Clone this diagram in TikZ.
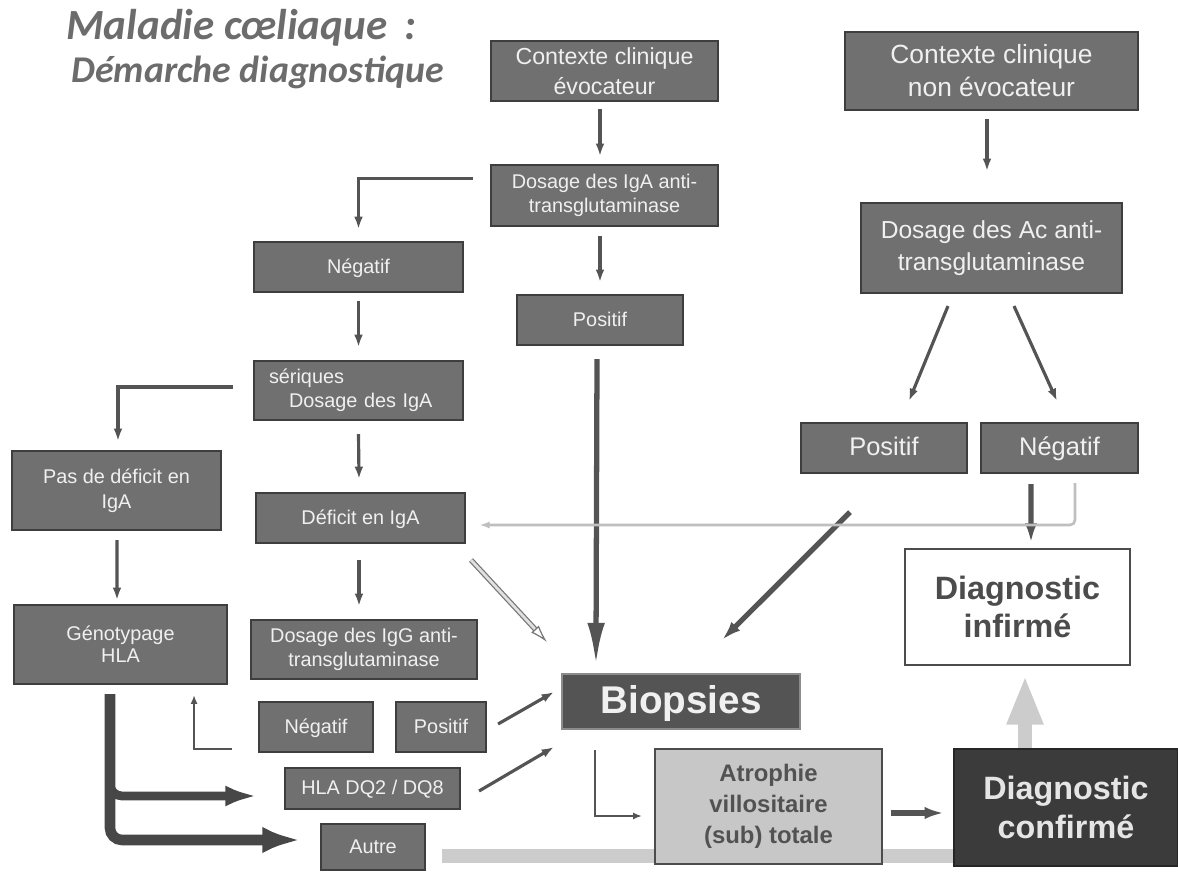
\documentclass[tikz,border=0pt]{standalone}
\usepackage{fontspec}
\setmainfont{Liberation Sans}
\newfontfamily\titlefont{Carlito}
\usetikzlibrary{arrows.meta,calc,backgrounds}

\newlength\pxu
\setlength\pxu{0.02cm}

\definecolor{boxfill}{RGB}{112,112,112}
\definecolor{boxline}{RGB}{62,62,62}
\definecolor{arrcol}{RGB}{84,84,84}
\definecolor{boxtext}{RGB}{240,240,240}
\definecolor{darktext}{RGB}{76,76,76}
\definecolor{titlecol}{RGB}{108,108,108}

\tikzset{
  sz/.style 2 args={minimum width=#1\pxu, minimum height=#2\pxu},
  box/.style={draw=boxline, fill=boxfill, line width=1.2pt, text=boxtext,
    align=center, inner sep=0pt, font=\fontsize{11.3}{13.4}\selectfont},
  one/.style={text height=#1, text depth=0.14*#1},
  one/.default=8.1pt,
  title/.style={text=titlecol, inner sep=0pt,
    font=\titlefont\bfseries\itshape\fontsize{21.5}{24}\selectfont},
  arr/.style={draw=arrcol, line width=1.8pt, -{Latex[length=7pt,width=5pt]}},
  midarr/.style={draw=arrcol, line width=3pt, -{Latex[length=11pt,width=7pt]}},
  bigarr/.style={draw=arrcol, line width=3pt, -{Latex[length=24pt,width=10pt]}},
  thinarr/.style={draw=arrcol, line width=1.2pt, -{Latex[length=5pt,width=4pt]}},
  lightarr/.style={draw=black!25, line width=1.5pt, rounded corners=5\pxu,
    -{Latex[length=6pt,width=4pt]}},
  hollowarr/.style={draw=arrcol!80, double=black!12, double distance=1.6pt,
    line width=0.7pt, -{Latex[open,length=10pt,width=6pt]}},
  fatarr/.style={draw=black!72, line width=5pt, rounded corners=12\pxu,
    -{Latex[length=18pt,width=12pt]}},
  barline/.style={draw=black!20, line width=8.5pt,
    -{Triangle[length=28pt,width=19pt]}}
}

\begin{document}
\begin{tikzpicture}[x=0.02cm, y=-0.02cm]
\useasboundingbox (0,0) rectangle (1178,872);

% title
\node[title, anchor=base west, font=\titlefont\bfseries\itshape\fontsize{24.5}{27}\selectfont] (t1) at (66,39) {Maladie cœliaque\hspace{0.4em}:};
\node[title, anchor=base west] (t2) at (71,82) {Démarche diagnostique};

% clinical context suggestive
\node[box, sz={227}{60}, font=\fontsize{13.2}{17}\selectfont] (evoc) at (604.5,71) {Contexte clinique\\évocateur};
\node[box, sz={227}{61}] (dosIgA) at (604.5,195.5) {Dosage des IgA anti-\\transglutaminase};
\node[box, one, sz={209}{50}] (neg1) at (358.5,267) {Négatif};
\node[box, one, sz={166}{50}] (pos1) at (600,320) {Positif};
\node[box, sz={209}{59}, align=left, text width=179\pxu] (ser) at (358.5,390.5) {sériques\\\hspace*{20\pxu}Dosage des IgA};
\node[box, sz={209}{79}, font=\fontsize{11.3}{14}\selectfont] (pasdef) at (116.5,490.5) {Pas de déficit en\\IgA};
\node[box, one, sz={209}{50}] (deficit) at (360.5,518) {Déficit en IgA};
\node[box, sz={213}{79}, font=\fontsize{11.3}{12.5}\selectfont] (geno) at (120.5,644.5) {Génotypage\\HLA};
\node[box, sz={226}{59}] (dosIgG) at (364,649.5) {Dosage des IgG anti-\\transglutaminase};
\node[box, one, sz={114}{50}] (neg2) at (316,727) {Négatif};
\node[box, one, sz={90}{50}] (pos2) at (441,727) {Positif};
\node[box, one, sz={175}{41}] (hla) at (372.5,788.5) {HLA DQ2 / DQ8};
\node[box, one, sz={104}{46}] (autre) at (373,847) {Autre};

% clinical context not suggestive
\node[box, sz={293}{78}, font=\fontsize{15}{18.8}\selectfont] (nonevoc) at (991.5,71) {Contexte clinique\\non évocateur};
\node[box, sz={261}{90}, font=\fontsize{14}{18}\selectfont] (dosAc) at (991.5,248) {Dosage des Ac anti-\\transglutaminase};
\node[box, one=10.4pt, sz={166}{50}, font=\fontsize{14.5}{17}\selectfont] (pos3) at (884,448) {Positif};
\node[box, one=10.4pt, sz={157}{50}, font=\fontsize{14.5}{17}\selectfont] (neg3) at (1059.5,448) {Négatif};

% outcome
\node[box, one=15.8pt, sz={238}{55}, fill=black!67, draw=black!45, font=\bfseries\fontsize{22}{26}\selectfont] (biop) at (681,701.5) {Biopsies};
\node[box, sz={225}{116}, fill=white, draw=black!70, line width=1.5pt, text=darktext,
  font=\bfseries\fontsize{18.4}{22}\selectfont] (infirme) at (1017.5,607) {Diagnostic\\infirmé};
\node[box, sz={227}{115}, fill=black!22, draw=black!70, text=black!68,
  font=\bfseries\fontsize{13.6}{17.5}\selectfont] (atroph) at (768.5,806.5) {Atrophie\\villositaire\\(sub) totale};
\node[box, sz={224}{117}, fill=black!77, draw=black!85, text=black!10,
  font=\bfseries\fontsize{18.4}{22}\selectfont] (confirme) at (1066,807.5) {Diagnostic\\confirmé};

\begin{scope}[on background layer]
\draw[barline] ($(autre.east)+(16,9)$) -| ($(infirme.south)+(7.5,9)$);
\end{scope}

\draw[arr] ($(evoc.south)+(-4.5,7)$) -- ($(dosIgA.north)+(-4.5,-8)$);
\draw[arr] ($(dosIgA.west)+(-17,-17)$) -| ($(neg1.north)+(0,-12)$);
\draw[arr] ($(dosIgA.south)+(-4.5,9)$) -- ($(pos1.north)+(0,-12)$);
\draw[arr] ($(neg1.south)+(0,8)$) -- ($(ser.north)+(0,-13)$);
\draw[arr] ($(ser.west)+(-20,-3.5)$) -| ($(pasdef.north)+(1.5,-9)$);
\draw[arr] ($(ser.south)+(0,13)$) -- ($(deficit.north)+(-1.5,-13)$);
\draw[arr] ($(pasdef.south)+(0.5,9)$) -- ($(geno.north)+(-3.5,-4)$);
\draw[arr] ($(deficit.south)+(-1.5,16)$) -- ($(dosIgG.north)+(-5,-13)$);
\draw[thinarr] ($(neg2.south west)+(-26,-4)$) -| ($(geno.south east)+(-34,10)$);
\draw[arr] ($(pos2.east)+(11,-3)$) -- ($(biop.west)+(-7,-9.5)$);
\draw[arr] ($(hla.east)+(18,2.5)$) -- ($(biop.south west)+(-7,17)$);
\draw[hollowarr] ($(deficit.south east)+(5,16)$) -- ($(biop.north west)+(-14,-31)$);
\draw[bigarr] ($(pos1.south)+(-3,13)$) -- ($(biop.north west)+(35,-8)$);
\draw[midarr] ($(pos3.south)+(-34,38)$) -- ($(biop.north east)+(-79,-33)$);

\draw[arr] ($(nonevoc.south)+(-4.5,8)$) -- ($(dosAc.north)+(-4.5,-31)$);
\draw[arr] ($(dosAc.south)+(-43.5,12)$) -- ($(pos3.north)+(25,-21)$);
\draw[arr] ($(dosAc.south)+(22.5,12)$) -- ($(neg3.north)+(-2.5,-21)$);
\draw[midarr] ($(neg3.south)+(-28.5,10)$) -- ($(infirme.north)+(13.5,-5)$);
\draw[lightarr] ($(neg3.south)+(15.5,9)$) |- ($(deficit.east)+(13,7)$);

\draw[thinarr] ($(biop.south)+(-86,20)$) |- ($(atroph.west)+(-12,9.5)$);
\draw[midarr] ($(atroph.east)+(8,6.5)$) -- ($(confirme.west)+(-9,5.5)$);

% HLA genotyping branches
\draw[fatarr] ($(geno.south)+(-10.5,9)$) |- ($(hla.west)+(-27,7.5)$);
\draw[fatarr, line width=6pt, -{Latex[length=22pt,width=15pt]}] ($(geno.south)+(-10.5,9)$) |- ($(autre.west)+(-19,-7)$);
\end{tikzpicture}
\end{document}
